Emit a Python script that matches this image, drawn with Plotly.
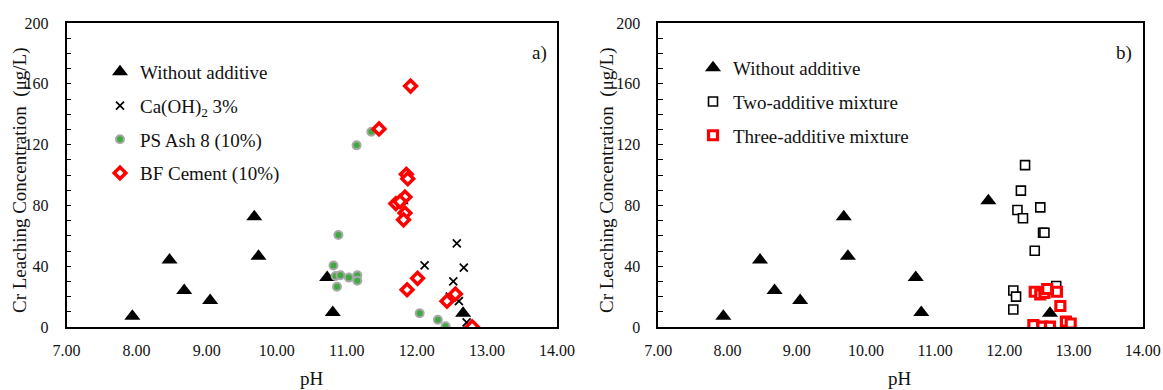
import plotly.graph_objects as go

# ---------------- data ----------------
wo_x = [7.94, 8.47, 8.68, 9.05, 9.68, 9.74, 10.72, 10.80, 11.77, 12.66]
wo_y = [7, 44, 24, 17.5, 72.5, 46.5, 32.5, 9.5, 83, 9]

ca_x = [12.57, 12.11, 12.67, 12.52, 12.47, 12.55, 12.60, 12.71]
ca_y = [55, 40.5, 39, 30, 20, 21.5, 17, 3]

ps_x = [11.35, 11.14, 10.88, 10.81, 10.84, 10.91, 11.03, 11.15, 11.15, 10.86, 12.04, 12.30, 12.41]
ps_y = [128.5, 119.5, 60.5, 40.5, 33.5, 34, 32.5, 34, 30.5, 26.5, 9, 4.8, 0.5]

bf_x = [11.91, 11.46, 11.85, 11.87, 11.83, 11.70, 11.76, 11.83, 11.81, 12.01, 11.86, 12.55, 12.43, 12.79]
bf_y = [158.5, 130.3, 100.5, 97.5, 85.5, 81.2, 82.5, 75, 70.5, 32, 24.5, 21.7, 17, 0.2]

two_x = [12.30, 12.24, 12.19, 12.27, 12.52, 12.56, 12.58, 12.44, 12.13, 12.17, 12.13, 12.75]
two_y = [106.5, 89.7, 77, 71.5, 78.7, 62, 62, 50.2, 24, 20, 11.5, 27]

three_x = [12.44, 12.52, 12.58, 12.62, 12.76, 12.81, 12.89, 12.96, 12.42, 12.55, 12.66]
three_y = [23.2, 21.5, 22.5, 25, 23.2, 13.8, 3.5, 2.3, 1.2, 0.3, 0.3]

x_ticks = [7, 8, 9, 10, 11, 12, 13, 14]
y_ticks = [0, 40, 80, 120, 160, 200]

FONT = "Liberation Serif"
TXT = "#111111"
W, H = 1163, 390

fig = go.Figure()

tri = dict(symbol="triangle-up", size=14, color="black")

# left panel
fig.add_trace(go.Scatter(x=wo_x, y=wo_y, mode="markers", name="Without additive",
                         marker=tri, xaxis="x", yaxis="y", legend="legend", legendgroup="a1"))
fig.add_trace(go.Scatter(x=ca_x, y=ca_y, mode="markers", name="Ca(OH)<sub>2</sub> 3%",
                         marker=dict(symbol="x-thin", size=8, line=dict(color="black", width=1.7)),
                         xaxis="x", yaxis="y", legend="legend", legendgroup="a2"))
fig.add_trace(go.Scatter(x=ps_x, y=ps_y, mode="markers", name="PS Ash 8 (10%)",
                         marker=dict(symbol="circle", size=8, color="#3faa3f",
                                     line=dict(color="#a8a8a8", width=2)),
                         xaxis="x", yaxis="y", legend="legend", legendgroup="a3"))
fig.add_trace(go.Scatter(x=bf_x, y=bf_y, mode="markers", name="BF Cement (10%)",
                         marker=dict(symbol="diamond", size=9, color="white",
                                     line=dict(color="#ff0000", width=3.5)),
                         xaxis="x", yaxis="y", legend="legend", legendgroup="a4"))

# right panel
fig.add_trace(go.Scatter(x=two_x, y=two_y, mode="markers", name="Two-additive mixture",
                         marker=dict(symbol="square", size=9, color="white",
                                     line=dict(color="black", width=1.6)),
                         xaxis="x2", yaxis="y2", legend="legend2", legendgroup="b2", legendrank=2))
fig.add_trace(go.Scatter(x=three_x, y=three_y, mode="markers", name="Three-additive mixture",
                         marker=dict(symbol="square", size=9, color="white",
                                     line=dict(color="#ff0000", width=3.2)),
                         xaxis="x2", yaxis="y2", legend="legend2", legendgroup="b3", legendrank=3))
fig.add_trace(go.Scatter(x=wo_x, y=wo_y, mode="markers", name="Without additive",
                         marker=tri, xaxis="x2", yaxis="y2", legend="legend2", legendgroup="b1",
                         legendrank=1))

xl = [66.5 / W, 557 / W]
xr = [658.3 / W, 1142.7 / W]
yd = [(H - 327) / H, (H - 23) / H]

def xax(dom, anchor):
    return dict(domain=dom, anchor=anchor, range=[7, 14], tickvals=x_ticks, tickformat=".2f",
                showgrid=False, zeroline=False, showline=True, linecolor="black", linewidth=1.5,
                mirror=True, ticks="", ticklabelstandoff=8, automargin=False,
                tickfont=dict(family=FONT, size=16, color=TXT))

def yax(anchor):
    return dict(domain=yd, anchor=anchor, range=[0, 200], tickvals=y_ticks,
                showgrid=False, zeroline=False, showline=True, linecolor="black", linewidth=1.5,
                mirror=True, ticks="inside", ticklen=5, tickcolor="black", ticklabelstandoff=13,
                automargin=False,
                minor=dict(dtick=10, ticks="inside", ticklen=5, tickcolor="black", showgrid=False),
                tickfont=dict(family=FONT, size=16, color=TXT))

leg_common = dict(bgcolor="rgba(0,0,0,0)", font=dict(family=FONT, size=19, color=TXT),
                  tracegroupgap=6, xanchor="left", yanchor="top", itemclick=False)


def ann(text, x, y, angle=0):
    return dict(text=text, x=x / W, y=(H - y) / H, xref="paper", yref="paper",
                xanchor="center", yanchor="middle", showarrow=False, textangle=angle,
                font=dict(family=FONT, size=19, color=TXT))


fig.update_layout(
    width=W, height=H, margin=dict(l=0, r=0, t=0, b=0, pad=0, autoexpand=False),
    plot_bgcolor="white", paper_bgcolor="white",
    xaxis=xax(xl, "y"), yaxis=yax("x"),
    xaxis2=xax(xr, "y2"), yaxis2=yax("x2"),
    legend=dict(x=100 / W, y=(H - 53) / H, **leg_common),
    legend2=dict(x=693 / W, y=(H - 49) / H, **leg_common),
    showlegend=True,
    annotations=[
        ann("a)", 539, 53),
        ann("b)", 1124, 53),
        ann("pH", (66.5 + 557) / 2, 378),
        ann("pH", (658.3 + 1142.7) / 2, 378),
        ann("Cr Leaching Concentration  (μg/L)", 20, 180, -90),
        ann("Cr Leaching Concentration  (μg/L)", 607, 180, -90),
    ],
)

fig.write_html("out.html", config={"displayModeBar": False},
               post_script="document.body.style.margin='0';document.body.style.overflow='hidden';")
